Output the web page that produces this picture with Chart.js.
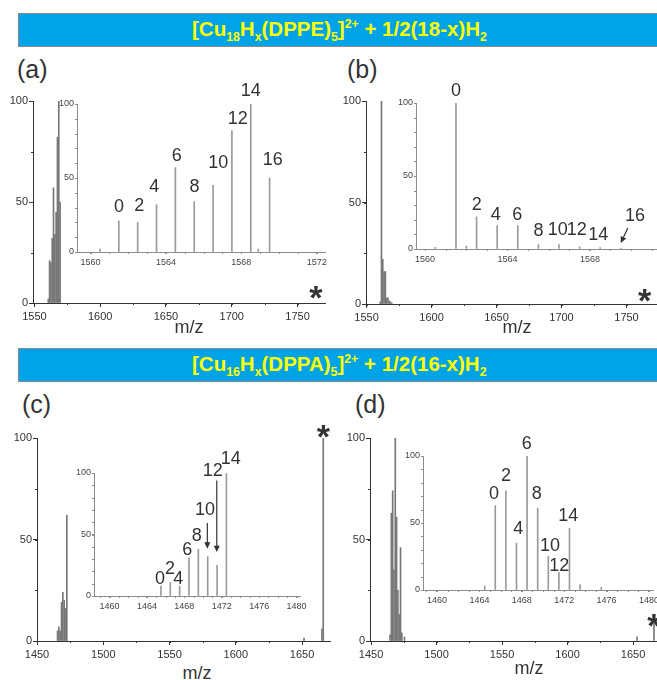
<!DOCTYPE html>
<html>
<head>
<meta charset="utf-8">
<script src="https://cdn.jsdelivr.net/npm/chart.js@4.4.1/dist/chart.umd.min.js"></script>
<style>
body{margin:0;width:657px;height:680px;overflow:hidden;background:#fff;position:relative;font-family:"Liberation Sans",Arial,sans-serif;color:#333}
.band{position:absolute;left:18px;width:680px;height:32px;background:#00a3e8;border:1px solid #8a8a8a}
.band span{position:absolute;left:173px;top:3px;font-weight:bold;font-size:20.5px;line-height:24px;color:#ffff00;white-space:nowrap}
.band sub,.band sup{font-size:60%;line-height:0}
.tag{position:absolute;font-size:25px;line-height:25px}
.mz{position:absolute;font-size:18px;line-height:18px;transform:translateX(-50%)}
.box{position:absolute}
</style>
</head>
<body>

<div class="band" style="top:13px"><span>[Cu<sub>18</sub>H<sub>x</sub>(DPPE)<sub>5</sub>]<sup>2+</sup> + 1/2(18-x)H<sub>2</sub></span></div>
<div class="band" style="top:348px"><span>[Cu<sub>16</sub>H<sub>x</sub>(DPPA)<sub>5</sub>]<sup>2+</sup> + 1/2(16-x)H<sub>2</sub></span></div>

<div class="tag" style="left:17px;top:57px">(a)</div>
<div class="tag" style="left:347px;top:57px">(b)</div>
<div class="tag" style="left:22px;top:392px">(c)</div>
<div class="tag" style="left:355px;top:392px">(d)</div>

<div class="box" id="mainA"></div>
<div class="box" id="mainB"></div>
<div class="box" id="mainC"></div>
<div class="box" id="mainD"></div>
<div class="box" id="insA"></div>
<div class="box" id="insB"></div>
<div class="box" id="insC"></div>
<div class="box" id="insD"></div>

<div class="mz" style="left:189px;top:318px">m/z</div>
<div class="mz" style="left:517px;top:318px">m/z</div>
<div class="mz" style="left:197px;top:664px">m/z</div>
<div class="mz" style="left:529px;top:659px">m/z</div>

<script>
// tick labels
var ticksTop = [1550, 1600, 1650, 1700, 1750];
var ticksBot = [1450, 1500, 1550, 1600, 1650];
var ticksInTop = [1560, 1564, 1568, 1572];
var ticksInBot = [1460, 1464, 1468, 1472, 1476, 1480];
var yTicks = [0, 50, 100];

// (a) Cu18 / DPPE
var mzA  = [1560.5, 1561.5, 1562.5, 1563.5, 1564.5, 1565.5, 1566.5, 1567.5, 1568.5, 1568.9, 1569.5];
var intA = [2, 21, 20, 32, 57, 34, 45, 82, 100, 2, 50];

// (b)
var mzB  = [1560.5, 1561.5, 1562.0, 1562.5, 1563.5, 1564.5, 1565.5, 1566.5, 1567.5, 1568.5, 1569.5];
var intB = [1, 100, 2, 22, 16, 16, 3, 3, 1.5, 1, 0.5];

// (c) Cu16 / DPPA, main spectrum and the zoomed part (own scale)
var mzC  = [1465.5, 1466.5, 1467.5, 1468.5, 1469.5, 1470.5, 1471.5, 1472.5, 1651.5, 1665, 1666];
var intC = [5, 7, 5, 19, 24, 20, 16, 62, 1.5, 6, 100];
var mzCz  = [1465.5, 1466.5, 1467.5, 1468.5, 1469.5, 1470.5, 1471.5, 1472.5];
var intCz = [8, 11, 8, 31, 38, 32, 25, 99.5];

// (d)
var mzD  = [1464.5, 1465.5, 1466.5, 1467.5, 1468.5, 1469.5, 1470.5, 1471.5, 1472.5, 1473.5, 1475.5, 1653, 1666];
var intD = [3, 63, 74, 35, 100, 61, 25, 13, 46, 4, 2, 2, 9];

// peak labels: [text, m/z, level]
var labA = [['0',1561.51,30.5],['2',1562.59,31],['4',1563.38,44],['6',1564.57,65],['8',1565.51,43.7],
            ['10',1566.78,60],['12',1567.81,90],['14',1568.5,109],['16',1569.67,62]];
var labB = [['0',1561.5,108],['2',1562.51,30.3],['4',1563.43,23.5],['6',1564.48,23.5],['8',1565.5,12],
            ['10',1566.44,13.2],['12',1567.36,13.2],['14',1568.41,9.8],['16',1570.19,22.3]];
var labC = [['0',1465.4,14],['2',1466.47,21.7],['4',1467.36,14],['6',1468.32,37],['8',1469.33,49],
            ['10',1470.21,69.7],['12',1471.04,102],['14',1472.96,111.7]];
var labD = [['0',1465.38,71.6],['2',1466.51,85.3],['4',1467.67,45.5],['6',1468.46,108.7],['8',1469.41,71.6],
            ['10',1470.66,32.8],['12',1471.54,18],['14',1472.39,55.5]];
// arrows: [from m/z, from level, to m/z, to level]
var arrB = [[1569.84, 14.4, 1569.5, 4.1]];
var arrC = [[1470.46, 59.3, 1470.46, 38.5], [1471.47, 94, 1471.47, 35.8]];
// reference peak marked with *
var starA = [1764, 7], starB = [1764, 6], starC = [1666, 105], starD = [1666, 12];

var tickFont = '"Liberation Sans Narrow", "Liberation Sans", Arial, sans-serif';

function minorPlugin(stepX, stepY, len, color) {
  return {
    id: 'minor',
    afterDraw: function(chart) {
      var ctx = chart.ctx, xs = chart.scales.x, ys = chart.scales.y, a = chart.chartArea;
      ctx.save();
      ctx.strokeStyle = color;
      ctx.lineWidth = 1;
      ctx.beginPath();
      for (var v = Math.ceil(xs.min / stepX) * stepX; v <= xs.max; v += stepX) {
        var px = Math.round(xs.getPixelForValue(v)) + 0.5;
        ctx.moveTo(px, a.bottom); ctx.lineTo(px, a.bottom + len);
      }
      for (var w = 0; w <= 100; w += stepY) {
        var py = Math.round(ys.getPixelForValue(w)) + 0.5;
        ctx.moveTo(a.left, py); ctx.lineTo(a.left - len, py);
      }
      ctx.stroke();
      ctx.restore();
    }
  };
}

function notesPlugin(labels, arrows, star) {
  return {
    id: 'notes',
    afterDraw: function(chart) {
      var ctx = chart.ctx, xs = chart.scales.x, ys = chart.scales.y;
      ctx.save();
      ctx.fillStyle = '#333';
      ctx.strokeStyle = '#333';
      ctx.font = '18px "Liberation Sans", Arial, sans-serif';
      ctx.textAlign = 'center';
      ctx.textBaseline = 'middle';
      labels.forEach(function(l) {
        ctx.fillText(l[0], xs.getPixelForValue(l[1]), ys.getPixelForValue(l[2]));
      });
      arrows.forEach(function(r) {
        var x1 = xs.getPixelForValue(r[0]), y1 = ys.getPixelForValue(r[1]);
        var x2 = xs.getPixelForValue(r[2]), y2 = ys.getPixelForValue(r[3]);
        var ang = Math.atan2(y2 - y1, x2 - x1), h = 7;
        ctx.lineWidth = 1.2;
        ctx.beginPath(); ctx.moveTo(x1, y1); ctx.lineTo(x2 - Math.cos(ang) * h * 0.8, y2 - Math.sin(ang) * h * 0.8); ctx.stroke();
        ctx.beginPath();
        ctx.moveTo(x2, y2);
        ctx.lineTo(x2 - h * Math.cos(ang - 0.45), y2 - h * Math.sin(ang - 0.45));
        ctx.lineTo(x2 - h * Math.cos(ang + 0.45), y2 - h * Math.sin(ang + 0.45));
        ctx.closePath(); ctx.fill();
      });
      if (star) {
        ctx.font = 'bold 34px "Liberation Sans", Arial, sans-serif';
        ctx.textBaseline = 'alphabetic';
        ctx.fillText('*', xs.getPixelForValue(star[0]), ys.getPixelForValue(star[1]) + 20);
      }
      ctx.restore();
    }
  };
}

// g: chart area in page px and look, d: data + range
function spectrum(id, g, d) {
  var padT = 34, padR = 30;
  var box = document.getElementById(id);
  box.style.left = (g.l - g.yW) + 'px';
  box.style.top = (g.t - padT) + 'px';
  box.style.width = (g.r - g.l + g.yW + padR) + 'px';
  box.style.height = (g.b - g.t + padT + g.xH) + 'px';
  var cv = document.createElement('canvas');
  box.appendChild(cv);

  var pts = d.x.map(function(x, i) { return { x: x, y: d.y[i] }; });

  return new Chart(cv, {
    type: 'bar',
    data: { datasets: [{ data: pts, backgroundColor: g.bar, barThickness: 1, grouped: false }] },
    options: {
      responsive: true,
      maintainAspectRatio: false,
      animation: false,
      events: [],
      layout: { padding: { top: padT, right: padR, left: 0, bottom: 0 } },
      plugins: { legend: { display: false }, tooltip: { enabled: false } },
      scales: {
        x: {
          type: 'linear', min: d.min, max: d.max, offset: false,
          afterFit: function(s) { s.height = g.xH; },
          afterBuildTicks: function(s) {
            s.ticks = d.ticks.filter(function(v) { return v >= d.min && v <= d.max; })
                             .map(function(v) { return { value: v }; });
          },
          grid: { drawOnChartArea: false, drawTicks: true, tickLength: g.tl, tickColor: g.axis, offset: false },
          border: { display: true, color: g.axis, width: 1 },
          ticks: { autoSkip: false, maxRotation: 0, padding: g.tp, color: g.text,
                   font: { family: tickFont, size: g.fs }, callback: function(v) { return String(v); } }
        },
        y: {
          min: 0, max: 100,
          afterFit: function(s) { s.width = g.yW; },
          afterBuildTicks: function(s) { s.ticks = yTicks.map(function(v) { return { value: v }; }); },
          grid: { drawOnChartArea: false, drawTicks: true, tickLength: g.tl, tickColor: g.axis },
          border: { display: true, color: g.axis, width: 1 },
          ticks: { padding: 1, color: g.text, font: { family: tickFont, size: g.fs },
                   callback: function(v) { return String(v); } }
        }
      }
    },
    plugins: [minorPlugin(g.mx, g.my, 2, g.axis), notesPlugin(d.labels || [], d.arrows || [], d.star)]
  });
}

var mainLook = { yW: 30, xH: 22, tl: 4, tp: 3, fs: 11, bar: '#777777', axis: '#333333', text: '#333333', mx: 25, my: 25 };
var insLook  = { yW: 20, xH: 16, tl: 2, tp: 3, fs: 9,  bar: '#9a9a9a', axis: '#8c8c8c', text: '#444444', mx: 1,  my: 10 };

function look(base, box) { return Object.assign({}, base, box); }

spectrum('mainA', look(mainLook, { l: 33, t: 101, r: 325, b: 303 }),
  { x: mzA, y: intA, min: 1548.9, max: 1770.9, ticks: ticksTop, star: starA });
spectrum('mainB', look(mainLook, { l: 366, t: 101, r: 659, b: 304 }),
  { x: mzB, y: intB, min: 1549.6, max: 1775, ticks: ticksTop, star: starB });
spectrum('mainC', look(mainLook, { l: 37, t: 438, r: 330, b: 641 }),
  { x: mzC, y: intC, min: 1450, max: 1671.1, ticks: ticksBot, star: starC });
spectrum('mainD', look(mainLook, { l: 370, t: 438, r: 660, b: 641 }),
  { x: mzD, y: intD, min: 1449.2, max: 1670.6, ticks: ticksBot, star: starD });

spectrum('insA', look(insLook, { l: 77, t: 104, r: 325, b: 252 }),
  { x: mzA, y: intA, min: 1559.28, max: 1572.44, ticks: ticksInTop, labels: labA });
spectrum('insB', look(insLook, { l: 416, t: 103, r: 662, b: 249 }),
  { x: mzB, y: intB, min: 1559.56, max: 1571.5, ticks: ticksInTop, labels: labB, arrows: arrB });
spectrum('insC', look(insLook, { l: 94, t: 473, r: 300, b: 596 }),
  { x: mzCz, y: intCz, min: 1458.34, max: 1480.37, ticks: ticksInBot, labels: labC, arrows: arrC });
spectrum('insD', look(insLook, { l: 423, t: 456, r: 653, b: 590 }),
  { x: mzD, y: intD, min: 1458.68, max: 1480.38, ticks: ticksInBot, labels: labD });
</script>
</body>
</html>
